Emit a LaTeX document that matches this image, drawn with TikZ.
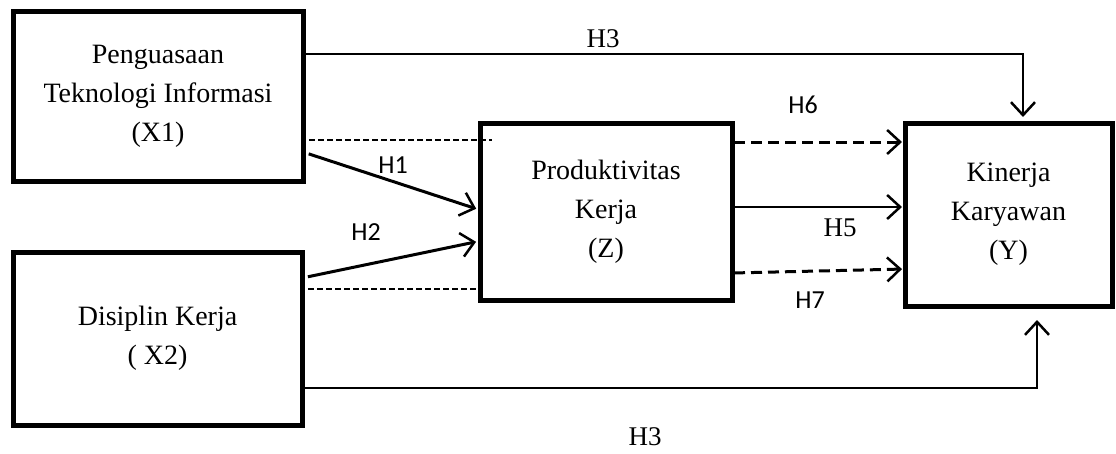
\documentclass[tikz,border=0pt]{standalone}
\usepackage{fontspec}
\setmainfont{Liberation Serif}
\newfontfamily\calibri{Carlito}
\usetikzlibrary{arrows.meta}
\tikzset{
  var/.style={draw, line width=5pt, outer sep=0pt, inner sep=0pt, align=center,
    font=\fontsize{28}{39}\selectfont},
  hyp/.style={font=\calibri\fontsize{26}{30}\selectfont},
  hypserif/.style={font=\fontsize{27}{30}\selectfont},
  arr/.style={-{Straight Barb[length=13pt,width=24pt,line width=2.5pt]}},
  pathdash/.style={line width=1.5pt, dash pattern=on 6pt off 3pt},
  mediatordash/.style={line width=3pt, dash pattern=on 11pt off 6pt}
}
\begin{document}
\begin{tikzpicture}[x=1pt, y=-1pt]
 \useasboundingbox (0,0) rectangle (1116,453);
 % variables
 \node[var, minimum width=290pt, minimum height=170pt] (X1) at (158,96) {Penguasaan\\Teknologi Informasi\\(X1)};
 \node[var, minimum width=289pt, minimum height=173pt] (X2) at (157.5,338.5) {Disiplin Kerja\\( X2)};
 \node[var, minimum width=252pt, minimum height=177pt] (Z) at (606,211.5) {Produktivitas\\Kerja\\(Z)};
 \node[var, minimum width=207pt, minimum height=183pt] (Y) at (1008.5,214.5) {Kinerja\\Karyawan\\(Y)};
 % direct paths
 \draw[arr, line width=3pt, shorten <=6pt, shorten >=4pt] (X1.east |- 0,152) -- (Z.west |- 0,210);
 \draw[arr, line width=3pt, shorten <=6pt, shorten >=4pt] (X2.east |- 0,278) -- (Z.west |- 0,241);
 \draw[pathdash, shorten <=6pt, shorten >=-12pt] (X1.east |- 0,140) -- (Z.west |- 0,140);
 \draw[pathdash, shorten <=6pt] (X2.east |- 0,289) -- (Z.west |- 0,289);
 \draw[arr, line width=2.5pt, shorten <=2pt, shorten >=3pt] (Z.east |- 0,207) -- (Y.west |- 0,207);
 \draw[arr, mediatordash, shorten <=2pt, shorten >=3pt] (Z.east |- 0,142) -- (Y.west |- 0,142);
 \draw[arr, mediatordash, shorten <=2pt, shorten >=3pt] (Z.east |- 0,273) -- (Y.west |- 0,269);
 \draw[arr, line width=2pt, shorten >=6pt] (X1.east |- 0,54) -| ([xshift=14.5pt]Y.north);
 \draw[arr, line width=2pt, shorten >=14pt] (X2.east |- 0,388) -| ([xshift=28.5pt]Y.south);
 % labels
 \node[hyp] (lblH1) at (393,165) {H1};
 \node[hyp] (lblH2) at (366,232) {H2};
 \node[hyp] (lblH6) at (803,105) {H6};
 \node[hyp] (lblH7) at (810,300) {H7};
 \node[hypserif] (lblH5) at (840,228) {H5};
 \node[hypserif] (lblH3a) at (603,39) {H3};
 \node[hypserif] (lblH3b) at (645,437) {H3};
\end{tikzpicture}
\end{document}
